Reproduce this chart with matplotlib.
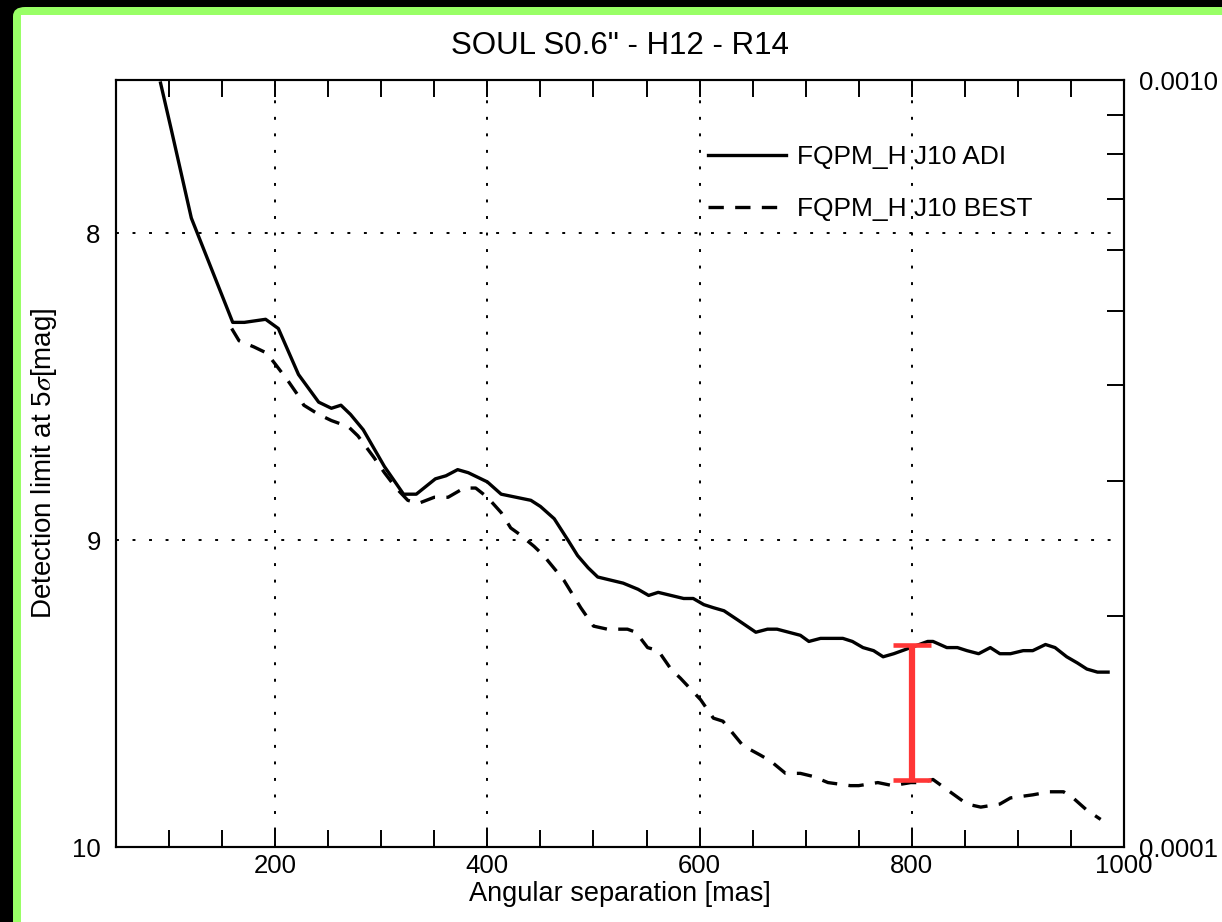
# Detection limit curves, SOUL S0.6" - H12 - R14

import numpy as np
import matplotlib.pyplot as plt
from matplotlib.patches import FancyBboxPatch, Rectangle

plt.rcParams['font.family'] = ['Liberation Sans', 'DejaVu Sans']
plt.rcParams['mathtext.fontset'] = 'stix'

# --- data ---
sep_adi = [92, 102, 121, 160, 171, 191, 203, 222, 241, 253, 262, 271, 283, 303,
           321, 333, 351, 361, 372, 382, 400, 413, 441, 450, 463, 476, 485, 495,
           504, 516, 528, 542, 552, 561, 573, 585, 594, 604, 613, 623, 636, 653,
           664, 673, 695, 703, 714, 735, 744, 754, 764, 773, 783, 799, 815, 820,
           833, 843, 852, 863, 874, 883, 893, 905, 914, 926, 935, 946, 956, 965,
           975, 985]
mag_adi = [7.51, 7.66, 7.95, 8.29, 8.29, 8.28, 8.31, 8.46, 8.55, 8.57, 8.56, 8.59,
           8.64, 8.76, 8.85, 8.85, 8.80, 8.79, 8.77, 8.78, 8.81, 8.85, 8.87, 8.89,
           8.93, 9.00, 9.05, 9.09, 9.12, 9.13, 9.14, 9.16, 9.18, 9.17, 9.18, 9.19,
           9.19, 9.21, 9.22, 9.23, 9.26, 9.30, 9.29, 9.29, 9.31, 9.33, 9.32, 9.32,
           9.33, 9.35, 9.36, 9.38, 9.37, 9.35, 9.33, 9.33, 9.35, 9.35, 9.36, 9.37,
           9.35, 9.37, 9.37, 9.36, 9.36, 9.34, 9.35, 9.38, 9.40, 9.42, 9.43, 9.43]

sep_best = [159, 166, 180, 192, 201, 212, 222, 227, 241, 253, 269, 278, 293, 303,
            314, 325, 335, 350, 363, 378, 389, 400, 413, 422, 430, 444, 453, 472,
            488, 500, 513, 532, 540, 551, 561, 573, 582, 601, 613, 622, 641, 657,
            667, 681, 695, 707, 721, 742, 750, 768, 782, 799, 808, 820, 836, 852,
            865, 883, 893, 914, 930, 943, 952, 965, 978]
mag_best = [8.31, 8.35, 8.37, 8.39, 8.43, 8.48, 8.53, 8.56, 8.59, 8.61, 8.63, 8.66,
            8.73, 8.78, 8.83, 8.87, 8.88, 8.86, 8.86, 8.83, 8.83, 8.86, 8.91, 8.96,
            8.98, 9.02, 9.05, 9.13, 9.22, 9.28, 9.29, 9.29, 9.30, 9.35, 9.36, 9.42,
            9.45, 9.52, 9.58, 9.59, 9.67, 9.70, 9.72, 9.76, 9.76, 9.77, 9.79, 9.80,
            9.80, 9.79, 9.80, 9.79, 9.79, 9.78, 9.82, 9.86, 9.87, 9.86, 9.84, 9.83,
            9.82, 9.82, 9.84, 9.88, 9.91]

label_adi = 'FQPM_H J10 ADI'
label_best = 'FQPM_H J10 BEST'

# gain marker at 800 mas
gain_sep = 800
gain_top = 9.34
gain_bottom = 9.78

mag_ticks = [8, 9, 10]
sep_ticks = [200, 400, 600, 800, 1000]

# --- figure ---
W, H = 1222, 922
fig = plt.figure(figsize=(W / 100, H / 100), dpi=100, facecolor='black')

# green frame of the screenshot
fig.patches.append(FancyBboxPatch((13 / W, -0.2), 1.3, 1.2 - 7 / H,
                                  boxstyle='round,pad=0,rounding_size=0.01',
                                  transform=fig.transFigure, facecolor='#99ff66',
                                  edgecolor='none', zorder=-10))
fig.patches.append(Rectangle((21 / W, -0.1), 1.2, 1.1 - 15 / H,
                             transform=fig.transFigure, facecolor='white',
                             edgecolor='none', zorder=-9))

ax = fig.add_axes([116 / W, 1 - 847 / H, (1124 - 116) / W, (847 - 80) / H])
ax.set_facecolor('none')

ax.plot(sep_adi, mag_adi, color='black', lw=2.4, label=label_adi)
ax.plot(sep_best, mag_best, color='black', lw=2.4, ls=(0, (4.6, 3.4)), label=label_best)

ax.errorbar([gain_sep], [(gain_top + gain_bottom) / 2],
            yerr=[(gain_bottom - gain_top) / 2], color='#ff3636',
            elinewidth=4.5, capsize=14, capthick=3.3, zorder=5)

ax.set_xlim(50, 1000)
ax.set_ylim(10, 7.5)

# grid
for s in sep_ticks[:-1]:
    ax.axvline(s, color='black', lw=1.4, ls=(0, (1.5, 7)), zorder=1)
for m in mag_ticks[:-1]:
    ax.axhline(m, color='black', lw=1.4, ls=(0, (1.5, 7)), zorder=1)

ax.set_xticks(sep_ticks)
ax.set_xticks(np.arange(100, 1000, 50), minor=True)
ax.set_yticks(mag_ticks)
ax.tick_params(axis='x', which='both', direction='in', length=12, width=1.4,
               top=True, labelsize=18.5, pad=5)
ax.tick_params(axis='y', which='both', length=0, labelsize=18.5, pad=11)
for sp in ax.spines.values():
    sp.set_linewidth(1.5)

ax.set_title('SOUL S0.6" - H12 - R14', fontsize=22.5, pad=19)
ax.set_xlabel('Angular separation [mas]', fontsize=19.5, labelpad=2)
ax.set_ylabel(r'Detection limit at 5$\sigma$[mag]', fontsize=20, labelpad=9)

# contrast axis on the right
ax2 = ax.twinx()
ax2.set_yscale('log')
ax2.set_ylim(10 ** (-0.4 * 10), 10 ** (-0.4 * 7.5))
ax2.set_yticks([1e-4, 1e-3])
ax2.set_yticklabels(['0.0001', '0.0010'])
ax2.set_yticks(np.arange(2, 10) * 1e-4, minor=True)
ax2.yaxis.set_minor_formatter(plt.NullFormatter())
ax2.tick_params(axis='y', which='major', length=0, labelsize=18.5, pad=11)
ax2.tick_params(axis='y', which='minor', direction='in', length=12, width=1.4)
for sp in ax2.spines.values():
    sp.set_linewidth(1.5)

ax.legend(loc='upper left', bbox_to_anchor=(0.587, 0.915), frameon=False,
          fontsize=19, handlelength=2.95, handletextpad=0.45, labelspacing=1.05,
          borderpad=0, borderaxespad=0)

fig.savefig('out.png', dpi=100, facecolor=fig.get_facecolor())
